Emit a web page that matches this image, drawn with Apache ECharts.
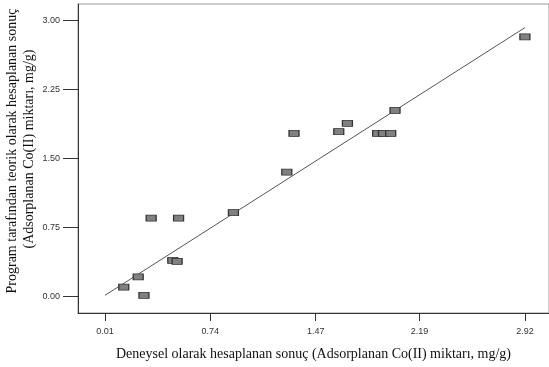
<!DOCTYPE html>
<html>
<head>
<meta charset="utf-8">
<script src="https://cdn.jsdelivr.net/npm/echarts@6/dist/echarts.min.js"></script>
<style>
html,body{margin:0;padding:0;background:#fff;}
#main{width:549px;height:367px;}
</style>
</head>
<body>
<div id="main"></div>
<script>
// deneysel (x) ve teorik (y) degerler
var deneysel = [0.14, 0.24, 0.28, 0.33, 0.52, 0.48, 0.51, 0.90, 1.27, 1.32, 1.63, 1.69, 1.90, 1.94, 1.99, 2.02, 2.92];
var teorik   = [0.10, 0.21, 0.01, 0.85, 0.85, 0.39, 0.38, 0.91, 1.35, 1.77, 1.79, 1.88, 1.77, 1.77, 1.77, 2.02, 2.82];

// y = x referans cizgisi
var refX = [0.01, 2.92];
var refY = [0.01, 2.92];

var xTicks = [0.01, 0.74, 1.47, 2.19, 2.92];
var yTicks = [0.00, 0.75, 1.50, 2.25, 3.00];

var points = [];
for (var i = 0; i < deneysel.length; i++) {
    points.push([deneysel[i], teorik[i]]);
}
var refLine = [];
for (var j = 0; j < refX.length; j++) {
    refLine.push([refX[j], refY[j]]);
}

var myChart = echarts.init(document.getElementById("main"));

var option = {
    animation : false,
    grid : {
        left : 78,
        right : -1,
        top : 4,
        bottom : 54,
        show : true,
        borderColor : "#999",
        borderWidth : 1
    },
    xAxis : {
        type : "value",
        min : -0.177,
        max : 3.087,
        splitLine : {show : false},
        axisLine : {onZero : false, lineStyle : {color : "#333", width : 1}},
        axisTick : {
            customValues : xTicks,
            length : 8,
            lineStyle : {color : "#333"}
        },
        axisLabel : {
            customValues : xTicks,
            margin : 14,
            fontFamily : "Liberation Sans",
            fontSize : 9,
            color : "#333",
            formatter : function(v){ return v.toFixed(2); }
        },
        name : "Deneysel olarak hesaplanan sonuç (Adsorplanan Co(II) miktarı, mg/g)",
        nameLocation : "middle",
        nameGap : 34,
        nameTextStyle : {
            fontFamily : "Liberation Serif",
            fontSize : 14,
            color : "#111"
        }
    },
    yAxis : {
        type : "value",
        min : -0.182,
        max : 3.177,
        splitLine : {show : false},
        axisLine : {onZero : false, lineStyle : {color : "#333", width : 1}},
        axisTick : {
            customValues : yTicks,
            length : 15,
            lineStyle : {color : "#333"}
        },
        axisLabel : {
            customValues : yTicks,
            margin : 18,
            fontFamily : "Liberation Sans",
            fontSize : 9,
            color : "#333",
            formatter : function(v){ return v.toFixed(2); }
        }
    },
    graphic : [
        {
            type : "text",
            x : 12,
            y : 151,
            rotation : Math.PI / 2,
            style : {
                text : "Program tarafından teorik olarak hesaplanan sonuç",
                font : "14px 'Liberation Serif'",
                fill : "#111",
                align : "center",
                verticalAlign : "middle"
            }
        },
        {
            type : "text",
            x : 29,
            y : 149,
            rotation : Math.PI / 2,
            style : {
                text : "(Adsorplanan Co(II) miktarı, mg/g)",
                font : "14px 'Liberation Serif'",
                fill : "#111",
                align : "center",
                verticalAlign : "middle"
            }
        }
    ],
    series : [
        {
            type : "line",
            data : refLine,
            symbol : "none",
            lineStyle : {color : "#555", width : 1},
            z : 2
        },
        {
            type : "scatter",
            data : points,
            symbol : "rect",
            symbolSize : [10, 6],
            itemStyle : {
                color : "#808080",
                borderColor : "#333",
                borderWidth : 1,
                opacity : 1
            },
            z : 3
        }
    ]
};

myChart.setOption(option);
</script>
</body>
</html>
